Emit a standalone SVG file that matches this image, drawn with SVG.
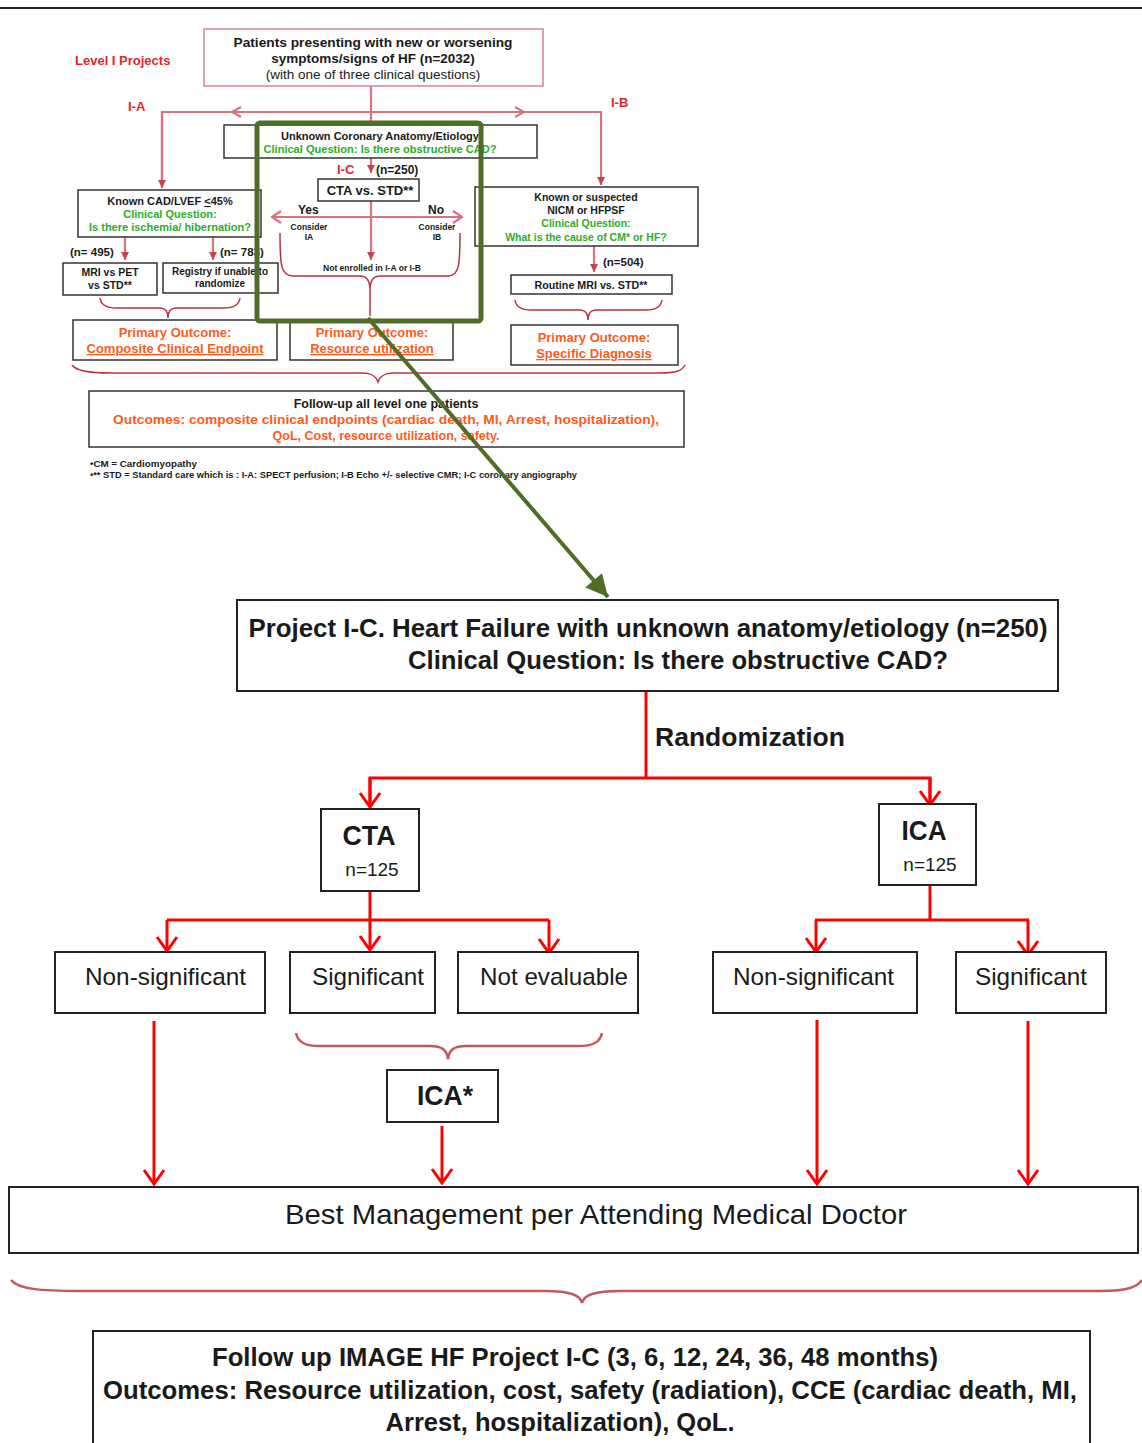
<svg xmlns="http://www.w3.org/2000/svg" width="1142" height="1443" viewBox="0 0 1142 1443">
<defs>
<style>
text{font-family:"Liberation Sans",Arial,Helvetica,sans-serif;fill:#1a1a1a}
.b{font-weight:bold}
.m{text-anchor:middle}
.or{fill:#ff5a1a}
.gr{fill:#2aae2a}
.rt{fill:#e3262c}
.bx{fill:#fff;stroke:#333;stroke-width:1.5}
.bx2{fill:#fff;stroke:#222;stroke-width:2}
.pk{stroke:#d6737e;stroke-width:2.2;fill:none}
.br{stroke:#b9323f;stroke-width:1.5;fill:none}
.rd{stroke:#ff0000;stroke-width:3;fill:none}
.rb{stroke:#c25a5c;stroke-width:2.5;fill:none}
.u{text-decoration:underline}
</style>
<marker id="ar" viewBox="0 0 24 24" refX="22" refY="12" markerWidth="24" markerHeight="24" markerUnits="userSpaceOnUse" orient="auto">
<path d="M8,2 L22,12 L8,22" fill="none" stroke="#ff0000" stroke-width="3"/>
</marker>
<marker id="ap" viewBox="0 0 10 10" refX="10" refY="5" markerWidth="9" markerHeight="8" markerUnits="userSpaceOnUse" orient="auto">
<path d="M0,0 L10,5 L0,10 z" fill="#c9434f"/>
</marker>
<marker id="ac" viewBox="0 0 12 14" refX="11" refY="7" markerWidth="12" markerHeight="14" markerUnits="userSpaceOnUse" orient="auto-start-reverse">
<path d="M2,1 L11,7 L2,13" fill="none" stroke="#d6737e" stroke-width="2.2"/>
</marker>
<marker id="ag" viewBox="0 0 20 20" refX="20" refY="10" markerWidth="26" markerHeight="22" markerUnits="userSpaceOnUse" orient="auto">
<path d="M0,0 L20,10 L0,20 z" fill="#4f6d26"/>
</marker>
</defs>
<rect width="1142" height="1443" fill="#fff"/>
<line x1="0" y1="8" x2="1142" y2="8" stroke="#222" stroke-width="2"/>

<!-- TOP SECTION -->
<g id="connectors-top">
<line class="pk" x1="371" y1="86" x2="371" y2="125"/>
<polyline class="pk" points="162,187 162,112 601,112 601,185" marker-end="url(#ap)"/>
<line class="pk" x1="162" y1="112" x2="162" y2="188" marker-end="url(#ap)"/>
<path class="pk" d="M241,107 L232,112 L241,117 M515,107 L524,112 L515,117"/>
<line class="pk" x1="371" y1="158" x2="371" y2="173" marker-end="url(#ap)"/>
<line class="pk" x1="371" y1="201" x2="371" y2="260" marker-end="url(#ap)"/>
<line class="pk" x1="272" y1="217" x2="462" y2="217" marker-start="url(#ac)" marker-end="url(#ac)"/>
<line class="pk" x1="125" y1="237" x2="125" y2="260" marker-end="url(#ap)"/>
<line class="pk" x1="213" y1="237" x2="213" y2="260" marker-end="url(#ap)"/>
<line class="pk" x1="594" y1="246" x2="594" y2="272" marker-end="url(#ap)"/>
<path class="br" d="M280,233 C280,266 281,276 293,276 L360,276 C367,276 370,281 370,290 L370,316 M370,290 C370,281 373,276 380,276 L448,276 C459,276 460,266 460,233"/>
<path class="br" d="M100,298 C101,305 106,308 116,308 L160,308 C165,308 168,311 168,318 C168,311 171,308 176,308 L224,308 C234,308 239,305 240,298"/>
<path class="br" d="M515,300 C516,307 521,310 531,310 L580,310 C585,310 588,313 588,320 C588,313 591,310 596,310 L646,310 C656,310 661,307 662,300"/>
<path class="br" d="M72,365 C76,371 90,373 110,373 L362,373 C372,373 376,376 378,382 C380,376 384,373 394,373 L660,373 C676,373 682,371 685,365"/>
</g>

<text id="level-label" class="b rt" x="75" y="65" font-size="13">Level I Projects</text>
<text class="b rt" x="128" y="111" font-size="13">I-A</text>
<text class="b rt" x="611" y="107" font-size="13">I-B</text>

<g id="patients">
<rect x="204" y="29" width="339" height="57" fill="#fff" stroke="#d6809a" stroke-width="1.5"/>
<text class="b m" x="373" y="47" font-size="13.5" textLength="279" lengthAdjust="spacingAndGlyphs">Patients presenting with new or worsening</text>
<text class="b m" x="373" y="63" font-size="13.5">symptoms/signs of  HF (n=2032)</text>
<text class="m" x="373" y="79" font-size="13.5">(with one of three clinical questions)</text>
</g>

<g id="unknown">
<rect class="bx" x="224" y="125" width="313" height="33"/>
<text class="b m" x="380" y="140" font-size="10.8" textLength="198" lengthAdjust="spacingAndGlyphs">Unknown Coronary Anatomy/Etiology</text>
<text class="b m gr" x="380" y="153" font-size="10.8" textLength="233" lengthAdjust="spacingAndGlyphs">Clinical Question: Is there obstructive CAD?</text>
</g>

<text class="b rt" x="337" y="174" font-size="13">I-C</text>
<text class="b" x="376" y="174" font-size="12">(n=250)</text>

<g id="cta-std">
<rect class="bx" x="318" y="179" width="101" height="22"/>
<text class="b m" x="370" y="195" font-size="13">CTA vs. STD**</text>
</g>
<text class="b" x="298" y="214" font-size="12">Yes</text>
<text class="b" x="428" y="214" font-size="12">No</text>
<text class="b m" x="309" y="230" font-size="8.5" fill="#444">Consider</text>
<text class="b m" x="309" y="240" font-size="8.5" fill="#444">IA</text>
<text class="b m" x="437" y="230" font-size="8.5" fill="#444">Consider</text>
<text class="b m" x="437" y="240" font-size="8.5" fill="#444">IB</text>
<text class="b m" x="372" y="271" font-size="8.5" textLength="98" lengthAdjust="spacingAndGlyphs">Not enrolled in I-A or I-B</text>

<g id="known-cad">
<rect class="bx" x="78" y="190" width="183" height="47"/>
<text class="b m" x="170" y="205" font-size="11">Known CAD/LVEF <tspan class="u">&lt;</tspan>45%</text>
<text class="b m gr" x="170" y="218" font-size="11">Clinical Question:</text>
<text class="b m gr" x="170" y="231" font-size="11">Is there ischemia/ hibernation?</text>
</g>
<text class="b" x="70" y="256" font-size="11.5">(n= 495)</text>
<text class="b" x="220" y="256" font-size="11.5">(n= 783)</text>

<g id="mri-pet">
<rect class="bx" x="63" y="263" width="94" height="32"/>
<text class="b m" x="110" y="276" font-size="10.5">MRI vs PET</text>
<text class="b m" x="110" y="289" font-size="10.5">vs STD**</text>
</g>
<g id="registry">
<rect class="bx" x="163" y="263" width="115" height="30"/>
<text class="b m" x="220" y="275" font-size="10" textLength="96" lengthAdjust="spacingAndGlyphs">Registry if unable to</text>
<text class="b m" x="220" y="287" font-size="10">randomize</text>
</g>

<g id="known-nicm">
<rect class="bx" x="475" y="187" width="223" height="59"/>
<text class="b m" x="586" y="201" font-size="10.5">Known or suspected</text>
<text class="b m" x="586" y="214" font-size="10.5">NICM or HFPSF</text>
<text class="b m gr" x="586" y="227" font-size="10.5">Clinical Question:</text>
<text class="b m gr" x="586" y="241" font-size="10.5">What is the cause of CM* or HF?</text>
</g>
<text class="b" x="603" y="266" font-size="11.5">(n=504)</text>
<g id="routine-mri">
<rect class="bx" x="511" y="275" width="161" height="19"/>
<text class="b m" x="591" y="289" font-size="10.5" textLength="113" lengthAdjust="spacingAndGlyphs">Routine MRI vs. STD**</text>
</g>

<g id="po-composite">
<rect class="bx" x="73" y="320" width="204" height="40" stroke="#777"/>
<text class="b m or" x="175" y="337" font-size="13">Primary Outcome:</text>
<text class="b m or u" x="175" y="353" font-size="13">Composite Clinical Endpoint</text>
</g>
<g id="po-resource">
<rect class="bx" x="290" y="320" width="163" height="40" stroke="#777"/>
<text class="b m or" x="372" y="337" font-size="13">Primary Outcome:</text>
<text class="b m or u" x="372" y="353" font-size="13">Resource utilization</text>
</g>
<g id="po-diagnosis">
<rect class="bx" x="511" y="325" width="167" height="40" stroke="#777"/>
<text class="b m or" x="594" y="342" font-size="13">Primary Outcome:</text>
<text class="b m or u" x="594" y="358" font-size="13">Specific Diagnosis</text>
</g>

<g id="followup-level1">
<rect class="bx" x="89" y="391" width="595" height="56" stroke="#777"/>
<text class="b m" x="386" y="408" font-size="12.5">Follow-up all level one patients</text>
<text class="b m or" x="386" y="424" font-size="12.5" textLength="546" lengthAdjust="spacingAndGlyphs">Outcomes: composite clinical endpoints (cardiac death, MI, Arrest, hospitalization),</text>
<text class="b m or" x="386" y="440" font-size="12.5">QoL, Cost, resource utilization, safety.</text>
</g>

<g id="footnotes">
<text class="b" x="90" y="467" font-size="8.5" textLength="107" lengthAdjust="spacingAndGlyphs">•CM = Cardiomyopathy</text>
<text class="b" x="90" y="478" font-size="8.5" textLength="487" lengthAdjust="spacingAndGlyphs">•** STD = Standard care which is : I-A: SPECT perfusion; I-B Echo +/- selective CMR; I-C coronary angiography</text>
</g>

<g id="highlight">
<rect x="257" y="123" width="224" height="198" rx="3" fill="none" stroke="#4f6d26" stroke-width="5"/>
<line x1="368" y1="318" x2="608" y2="597" stroke="#4f6d26" stroke-width="4" marker-end="url(#ag)"/>
</g>

<!-- BOTTOM SECTION -->
<g id="connectors">
<line class="rd" x1="646" y1="691" x2="646" y2="778"/>
<polyline class="rd" points="370,806 370,778 930,778 930,806" fill="none"/>
<line class="rd" x1="370" y1="778" x2="370" y2="807" marker-end="url(#ar)"/>
<line class="rd" x1="930" y1="778" x2="930" y2="805" marker-end="url(#ar)"/>
<line class="rd" x1="370" y1="891" x2="370" y2="920"/>
<line class="rd" x1="167" y1="920" x2="549" y2="920"/>
<line class="rd" x1="167" y1="920" x2="167" y2="951" marker-end="url(#ar)"/>
<line class="rd" x1="370" y1="920" x2="370" y2="950" marker-end="url(#ar)"/>
<line class="rd" x1="549" y1="920" x2="549" y2="953" marker-end="url(#ar)"/>
<line class="rd" x1="930" y1="885" x2="930" y2="920"/>
<line class="rd" x1="815" y1="920" x2="1029" y2="920"/>
<line class="rd" x1="816" y1="920" x2="816" y2="952" marker-end="url(#ar)"/>
<line class="rd" x1="1028" y1="920" x2="1028" y2="955" marker-end="url(#ar)"/>
<line class="rd" x1="154" y1="1021" x2="154" y2="1184" marker-end="url(#ar)"/>
<line class="rd" x1="442" y1="1126" x2="442" y2="1183" marker-end="url(#ar)"/>
<line class="rd" x1="817" y1="1020" x2="817" y2="1184" marker-end="url(#ar)"/>
<line class="rd" x1="1028" y1="1021" x2="1028" y2="1184" marker-end="url(#ar)"/>
<path class="rb" d="M296,1033 C298,1043 306,1046 320,1046 L430,1046 C442,1046 447,1050 448,1059 C449,1050 454,1046 466,1046 L578,1046 C592,1046 600,1043 602,1033"/>
<path class="rb" d="M11,1280 C18,1289 40,1291 80,1291 L545,1291 C570,1291 580,1295 582,1303 C584,1295 594,1291 620,1291 L1100,1291 C1130,1291 1138,1286 1142,1280"/>
</g>

<g id="project-ic">
<rect class="bx2" x="237" y="600" width="821" height="91"/>
<text class="b m" x="648" y="637" font-size="26" textLength="799" lengthAdjust="spacingAndGlyphs">Project I-C.  Heart Failure with unknown anatomy/etiology (n=250)</text>
<text class="b m" x="678" y="669" font-size="26" textLength="540" lengthAdjust="spacingAndGlyphs">Clinical Question: Is there obstructive CAD?</text>
</g>
<text class="b" x="655" y="746" font-size="26" textLength="190" lengthAdjust="spacingAndGlyphs">Randomization</text>

<g id="cta">
<rect class="bx2" x="321" y="809" width="98" height="82"/>
<text class="b m" x="369" y="845" font-size="27" textLength="53" lengthAdjust="spacingAndGlyphs">CTA</text>
<text class="m" x="372" y="876" font-size="19">n=125</text>
</g>
<g id="ica">
<rect class="bx2" x="879" y="804" width="97" height="81"/>
<text class="b m" x="924" y="840" font-size="27" textLength="45" lengthAdjust="spacingAndGlyphs">ICA</text>
<text class="m" x="930" y="871" font-size="19">n=125</text>
</g>

<g id="cta-nonsig">
<rect class="bx2" x="55" y="952" width="210" height="61"/>
<text x="85" y="985" font-size="24" textLength="161" lengthAdjust="spacingAndGlyphs">Non-significant</text>
</g>
<g id="cta-sig">
<rect class="bx2" x="290" y="952" width="145" height="61"/>
<text x="312" y="985" font-size="24" textLength="112" lengthAdjust="spacingAndGlyphs">Significant</text>
</g>
<g id="cta-noteval">
<rect class="bx2" x="458" y="952" width="180" height="61"/>
<text x="480" y="985" font-size="24" textLength="148" lengthAdjust="spacingAndGlyphs">Not evaluable</text>
</g>
<g id="ica-nonsig">
<rect class="bx2" x="713" y="952" width="204" height="61"/>
<text x="733" y="985" font-size="24" textLength="161" lengthAdjust="spacingAndGlyphs">Non-significant</text>
</g>
<g id="ica-sig">
<rect class="bx2" x="956" y="952" width="150" height="61"/>
<text x="975" y="985" font-size="24" textLength="112" lengthAdjust="spacingAndGlyphs">Significant</text>
</g>

<g id="ica-star">
<rect class="bx2" x="387" y="1070" width="111" height="52"/>
<text class="b" x="417" y="1105" font-size="27" textLength="56" lengthAdjust="spacingAndGlyphs">ICA*</text>
</g>

<g id="best-management">
<rect class="bx2" x="9" y="1187" width="1129" height="66"/>
<text class="m" x="596" y="1224" font-size="28" textLength="622" lengthAdjust="spacingAndGlyphs">Best Management per Attending Medical Doctor</text>
</g>

<g id="followup-ic">
<rect class="bx2" x="93" y="1331" width="997" height="130"/>
<text class="b m" x="575" y="1366" font-size="25" textLength="726" lengthAdjust="spacingAndGlyphs">Follow up IMAGE HF Project I-C (3, 6, 12, 24, 36, 48 months)</text>
<text class="b m" x="590" y="1399" font-size="25" textLength="974" lengthAdjust="spacingAndGlyphs">Outcomes: Resource utilization, cost, safety (radiation), CCE (cardiac death, MI,</text>
<text class="b m" x="560" y="1431" font-size="25" textLength="349" lengthAdjust="spacingAndGlyphs">Arrest, hospitalization), QoL.</text>
</g>
</svg>
